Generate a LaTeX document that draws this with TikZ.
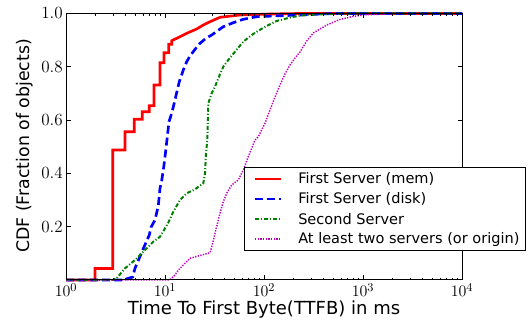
\documentclass[tikz,border=0pt]{standalone}
\usepackage{amsmath,amssymb}
\usepackage{fontspec}
\usepackage{tikz}
\newfontfamily\plotfont{DejaVu Sans}
\definecolor{memred}{rgb}{1,0,0}
\definecolor{diskblue}{rgb}{0,0,1}
\definecolor{secondgreen}{rgb}{0,0.5,0}
\definecolor{originmagenta}{rgb}{0.75,0,0.75}
\tikzset{
  tick label/.style={
    inner sep=0pt,
    font=\fontsize{12.8}{14}\selectfont,
  },
  axis label/.style={
    inner sep=0pt,
    font=\plotfont\fontsize{13}{15}\selectfont,
  },
  legend text/.style={
    anchor=west,
    inner sep=0pt,
    font=\plotfont\fontsize{10.9}{13}\selectfont,
  },
  curve mem/.style={
    color=memred, line width=2pt,
  },
  curve disk/.style={
    color=diskblue, line width=2pt, dash pattern={on 6pt off 3pt},
  },
  curve second/.style={
    color=secondgreen, line width=1.5pt, dash pattern={on 3pt off 1.5pt on 0.8pt off 1.5pt},
  },
  curve origin/.style={
    color=originmagenta, line width=1.1pt, dash pattern={on 1pt off 1pt},
  }
}

\begin{document}
\begin{tikzpicture}[x=0.75pt,y=0.75pt,yscale=-1,xscale=1]
%set diagram left start at 0, and has height of 320
\path (0,0) rectangle (532,320);

%Curve Lines [id:mem]
\draw [curve mem] (66,280) -- (95,280) -- (95,268.5) -- (112.7,268.5) -- (112.7,150) -- (125,150) -- (125,131.7) -- (134.3,131.7) -- (134.3,119.3) -- (142.3,119.3) -- (142.3,111.7) -- (149.3,111.7) -- (149.3,105.7) -- (154,105.7) -- (154,85) -- (160,85) -- (160,62.7) -- (164,62.7) -- (164,52.7) -- (168.7,52.7) -- (168.7,44.3) -- (171.7,44.3) -- (171.7,40.7) -- (176.7,38.3) -- (186.7,33.3) -- (196.7,29) -- (203.3,25) -- (210,21.7) -- (220,17.3) -- (240,15) -- (270,14) -- (300,13.5) -- (462,13.5) ;
%Curve Lines [id:disk]
\draw [curve disk] (66,280) -- (123,280) -- (132.7,277) -- (135,268.3) -- (142.7,250) -- (149.3,235) -- (151,227.3) -- (155,220) -- (158.3,205.7) -- (160,188.3) -- (161.7,180.7) -- (164,165) -- (166,148.3) -- (169,121.7) -- (171.7,113.3) -- (175,100) -- (177.3,90) -- (179.3,81.7) -- (183.3,70) -- (186.7,61.7) -- (190,56) -- (195,49.3) -- (200,43.3) -- (206,38.3) -- (211.7,35) -- (223.3,26.7) -- (233.3,22.7) -- (243.3,19.3) -- (256.7,16.7) -- (273.3,16) -- (300,15) -- (320,14) -- (340,13.5) -- (462,13.5) ;
%Curve Lines [id:second]
\draw [curve second] (66,280) -- (113,280) -- (116.7,278.3) -- (125,268.3) -- (135,260) -- (140,255) -- (148.3,246.7) -- (153.3,241.7) -- (160,236.7) -- (164,230) -- (168.3,222.7) -- (173.3,211.7) -- (180,200) -- (186.7,193.3) -- (195,189.3) -- (203.3,183.3) -- (205,173.3) -- (206,153.3) -- (207.3,140) -- (208.3,103.3) -- (211.7,93.3) -- (215,86.7) -- (218.3,78.3) -- (223.3,66.7) -- (228.3,60) -- (235,51.7) -- (243.3,41.7) -- (251.7,35) -- (258.3,30.7) -- (266.7,26) -- (276.7,21) -- (288.3,18) -- (300,15.5) -- (326.7,14) -- (350,13.5) -- (462,13.5) ;
%Curve Lines [id:origin]
\draw [curve origin] (66,280) -- (168,280) -- (171,279) -- (175,275) -- (178.3,270) -- (183.3,265) -- (190,258.3) -- (200,255.5) -- (210,252.7) -- (212.7,243.3) -- (215,233.3) -- (220,213.3) -- (223.3,201.7) -- (226.7,193.3) -- (231.7,185) -- (238.3,180) -- (243.3,170) -- (248.3,156.7) -- (255,140) -- (258.3,136.7) -- (265,123.3) -- (270,110) -- (275,97) -- (280,85) -- (285,74) -- (290,65) -- (295,58) -- (300,52) -- (306.7,41) -- (313.3,33) -- (326.7,25) -- (340,19.5) -- (353.3,16.3) -- (366.7,14.7) -- (386.7,14) -- (400,13.5) -- (462,13.5) ;

%Shape: Axis 2D [id:frame]
\draw [line width=0.75pt] (66,13.5) rectangle (462,280) ;
%major ticks
\draw [line width=0.6pt] (165,280) -- (165,275.5)(264,280) -- (264,275.5)(363,280) -- (363,275.5)(165,13.5) -- (165,18)(264,13.5) -- (264,18)(363,13.5) -- (363,18)(66,226.7) -- (70.5,226.7)(66,173.4) -- (70.5,173.4)(66,120.1) -- (70.5,120.1)(66,66.8) -- (70.5,66.8)(462,226.7) -- (457.5,226.7)(462,173.4) -- (457.5,173.4)(462,120.1) -- (457.5,120.1)(462,66.8) -- (457.5,66.8) ;
%minor ticks
\draw [line width=0.5pt] (95.8,280) -- (95.8,277.8)(113.2,280) -- (113.2,277.8)(125.6,280) -- (125.6,277.8)(135.2,280) -- (135.2,277.8)(143,280) -- (143,277.8)(149.7,280) -- (149.7,277.8)(155.4,280) -- (155.4,277.8)(160.5,280) -- (160.5,277.8)(194.8,280) -- (194.8,277.8)(212.2,280) -- (212.2,277.8)(224.6,280) -- (224.6,277.8)(234.2,280) -- (234.2,277.8)(242,280) -- (242,277.8)(248.7,280) -- (248.7,277.8)(254.4,280) -- (254.4,277.8)(259.5,280) -- (259.5,277.8)(293.8,280) -- (293.8,277.8)(311.2,280) -- (311.2,277.8)(323.6,280) -- (323.6,277.8)(333.2,280) -- (333.2,277.8)(341,280) -- (341,277.8)(347.7,280) -- (347.7,277.8)(353.4,280) -- (353.4,277.8)(358.5,280) -- (358.5,277.8)(392.8,280) -- (392.8,277.8)(410.2,280) -- (410.2,277.8)(422.6,280) -- (422.6,277.8)(432.2,280) -- (432.2,277.8)(440,280) -- (440,277.8)(446.7,280) -- (446.7,277.8)(452.4,280) -- (452.4,277.8)(457.5,280) -- (457.5,277.8) ;
\draw [line width=0.5pt] (95.8,13.5) -- (95.8,15.7)(113.2,13.5) -- (113.2,15.7)(125.6,13.5) -- (125.6,15.7)(135.2,13.5) -- (135.2,15.7)(143,13.5) -- (143,15.7)(149.7,13.5) -- (149.7,15.7)(155.4,13.5) -- (155.4,15.7)(160.5,13.5) -- (160.5,15.7)(194.8,13.5) -- (194.8,15.7)(212.2,13.5) -- (212.2,15.7)(224.6,13.5) -- (224.6,15.7)(234.2,13.5) -- (234.2,15.7)(242,13.5) -- (242,15.7)(248.7,13.5) -- (248.7,15.7)(254.4,13.5) -- (254.4,15.7)(259.5,13.5) -- (259.5,15.7)(293.8,13.5) -- (293.8,15.7)(311.2,13.5) -- (311.2,15.7)(323.6,13.5) -- (323.6,15.7)(333.2,13.5) -- (333.2,15.7)(341,13.5) -- (341,15.7)(347.7,13.5) -- (347.7,15.7)(353.4,13.5) -- (353.4,15.7)(358.5,13.5) -- (358.5,15.7)(392.8,13.5) -- (392.8,15.7)(410.2,13.5) -- (410.2,15.7)(422.6,13.5) -- (422.6,15.7)(432.2,13.5) -- (432.2,15.7)(440,13.5) -- (440,15.7)(446.7,13.5) -- (446.7,15.7)(452.4,13.5) -- (452.4,15.7)(457.5,13.5) -- (457.5,15.7) ;

% Text Node
\draw (63,13.5) node [anchor=east][tick label] (yten) {1.0};
% Text Node
\draw (63,66.8) node [anchor=east][tick label] (yeight) {0.8};
% Text Node
\draw (63,120.1) node [anchor=east][tick label] (ysix) {0.6};
% Text Node
\draw (63,173.4) node [anchor=east][tick label] (yfour) {0.4};
% Text Node
\draw (63,226.7) node [anchor=east][tick label] (ytwo) {0.2};
% Text Node
\draw (66,283) node [anchor=north][tick label] (xzero) {$10^{0}$};
% Text Node
\draw (165,283) node [anchor=north][tick label] (xone) {$10^{1}$};
% Text Node
\draw (264,283) node [anchor=north][tick label] (xtwo) {$10^{2}$};
% Text Node
\draw (363,283) node [anchor=north][tick label] (xthree) {$10^{3}$};
% Text Node
\draw (462,283) node [anchor=north][tick label] (xfour) {$10^{4}$};
% Text Node
\draw (264,314.5) node [anchor=base][axis label,font=\plotfont\fontsize{13.5}{15}\selectfont] (xtitle) {Time To First Byte(TTFB) in ms};
% Text Node
\draw (29,146) node [anchor=base,rotate=90][axis label] (ytitle) {CDF (Fraction of objects)};

%Shape: Rectangle [id:legend]
\draw [line width=0.75pt, fill=white] (244.5,167.5) rectangle (525.5,250.5) ;
\draw [curve mem] (255,179) -- (281,179) ;
\draw [curve disk] (255,199) -- (281,199) ;
\draw [curve second] (255,219) -- (281,219) ;
\draw [curve origin] (255,239) -- (281,239) ;
% Text Node
\draw (298,179) node [legend text] (legmem) {First Server (mem)};
% Text Node
\draw (298,199) node [legend text] (legdisk) {First Server (disk)};
% Text Node
\draw (298,219) node [legend text] (legsecond) {Second Server};
% Text Node
\draw (298,239) node [legend text] (legorigin) {At least two servers (or origin)};

\end{tikzpicture}
\end{document}
